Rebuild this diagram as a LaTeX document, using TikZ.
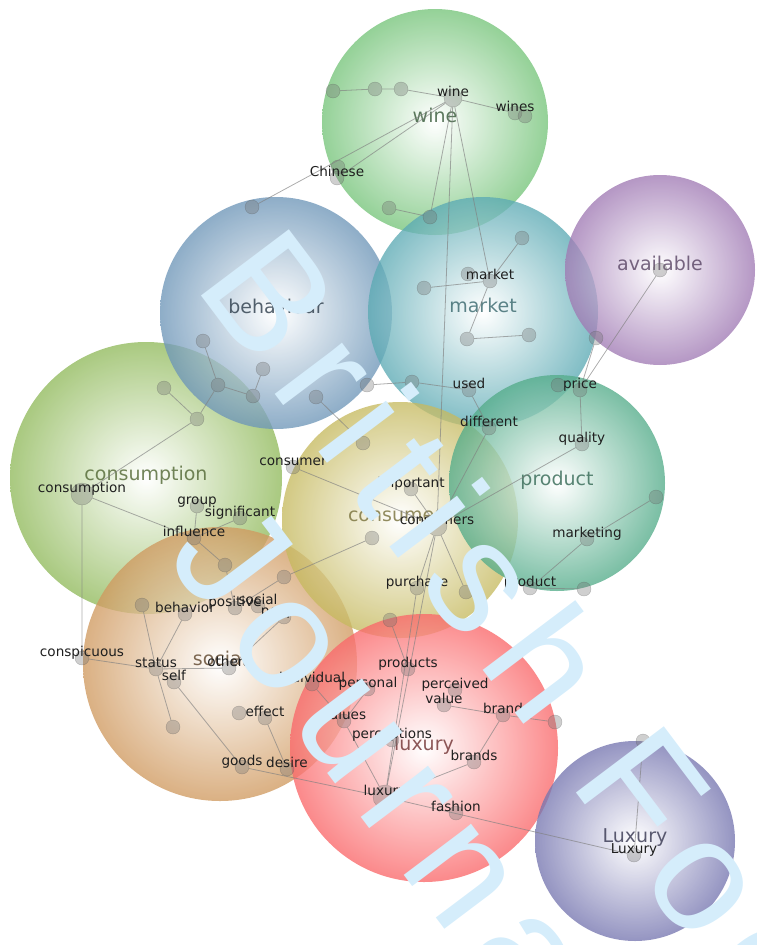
\documentclass[tikz,border=0pt]{standalone}
\usepackage{fontspec}
\setmainfont{DejaVu Sans}
\newfontfamily\wmfont[LetterSpace=12]{Liberation Sans}
\definecolor{winec}{RGB}{118,196,122}
\definecolor{availc}{RGB}{160,122,180}
\definecolor{behavc}{RGB}{110,150,184}
\definecolor{marketc}{RGB}{92,170,180}
\definecolor{consumpc}{RGB}{145,186,92}
\definecolor{productc}{RGB}{84,172,138}
\definecolor{consumersc}{RGB}{198,186,96}
\definecolor{socialc}{RGB}{208,154,96}
\definecolor{luxuryc}{RGB}{250,104,106}
\definecolor{bigluxc}{RGB}{118,118,176}
\definecolor{wmblue}{RGB}{213,237,251}
\begin{document}
\begin{tikzpicture}[x=1pt,y=-1pt,
    bubble/.style={inner color=white,outer color=#1,opacity=0.78},
    ctext/.style={anchor=base,inner sep=0pt,font=\fontsize{19}{21}\selectfont,text opacity=0.8},
    word/.style={circle,inner sep=0pt,minimum size=14pt,fill=black!55,draw=black!70,fill opacity=0.34,draw opacity=0.35},
    bigword/.style={word,minimum size=20pt},
    wtext/.style={anchor=base,inner sep=0pt,yshift=2pt,text=black!88,font=\fontsize{13.6}{15}\selectfont},
    link/.style={draw=black!50,line width=0.8pt,draw opacity=0.65},
    wmark/.style={rotate=-53,anchor=base west,inner sep=0pt,text=wmblue,font=\wmfont\fontsize{160}{180}\selectfont}]
  \useasboundingbox (0,0) rectangle (756,945);

  % bubbles
  \shade[bubble=consumpc] (146,478) circle (136);
  \shade[bubble=behavc] (276,313) circle (116);
  \shade[bubble=winec] (435,122) circle (113);
  \shade[bubble=marketc] (483,312) circle (115);
  \shade[bubble=availc] (660,270) circle (95);
  \shade[bubble=socialc] (220,664) circle (137);
  \shade[bubble=consumersc] (400,520) circle (118);
  \shade[bubble=productc] (557,483) circle (108);
  \shade[bubble=luxuryc] (424,748) circle (134);
  \shade[bubble=bigluxc] (635,841) circle (100);

  \node[ctext,text=winec!45!black] at (435,122) {wine};
  \node[ctext,text=availc!55!black] at (660,270) {available};
  \node[ctext,text=behavc!40!black] at (276,313) {behaviour};
  \node[ctext,text=marketc!60!black] at (483,312) {market};
  \node[ctext,text=consumpc!55!black] at (146,480) {consumption};
  \node[ctext,text=productc!60!black] at (557,485) {product};
  \node[ctext,text=consumersc!60!black] at (400,521) {consumers};
  \node[ctext,text=socialc!45!black] at (220,665) {social};
  \node[ctext,text=luxuryc!45!black] at (424,750) {luxury};
  \node[ctext,text=bigluxc!45!black] at (635,842) {Luxury};

  % word nodes
  \node[word,minimum size=18pt] (wine) at (453,98) {};
  \node[word] (wa) at (333,91) {};
  \node[word] (wb) at (375,89) {};
  \node[word] (wc) at (401,89) {};
  \node[word] (wines) at (515,113) {};
  \node[word] (winesb) at (525,116) {};
  \node[word] (chineseb) at (338,167) {};
  \node[word] (chinese) at (337,178) {};
  \node[word] (bha) at (252,207) {};
  \node[word] (wd) at (389,208) {};
  \node[word] (we) at (430,217) {};

  \node[word] (marketb) at (468,274) {};
  \node[word] (market) at (490,281) {};
  \node[word] (ma) at (424,288) {};
  \node[word] (mb) at (522,238) {};
  \node[word] (mc) at (467,339) {};
  \node[word] (md) at (529,335) {};
  \node[word] (me) at (596,338) {};
  \node[word] (available) at (660,270) {};
  \node[word] (ua) at (367,385) {};
  \node[word] (ub) at (412,382) {};
  \node[word] (used) at (469,390) {};
  \node[word] (different) at (489,428) {};

  \node[word] (priceb) at (558,385) {};
  \node[word] (price) at (580,390) {};
  \node[word] (quality) at (582,444) {};
  \node[word] (marketing) at (587,539) {};
  \node[word] (pa) at (656,497) {};
  \node[word] (product) at (530,588) {};
  \node[word] (pb) at (584,589) {};

  \node[bigword] (consumers) at (437,526) {};
  \node[word] (consumer) at (293,467) {};
  \node[word] (important) at (411,489) {};
  \node[word] (purchase) at (417,588) {};
  \node[word] (ca) at (466,592) {};
  \node[word] (cb) at (372,538) {};
  \node[word] (cc) at (390,620) {};
  \node[word] (cd) at (363,443) {};
  \node[word] (ba) at (316,397) {};
  \node[word] (bb) at (253,396) {};
  \node[word] (bc) at (218,385) {};
  \node[word] (bd) at (263,369) {};
  \node[word] (be) at (203,341) {};

  \node[bigword,minimum size=22pt] (consumption) at (82,494) {};
  \node[word] (ka) at (197,419) {};
  \node[word] (kb) at (164,388) {};
  \node[word] (group) at (197,506) {};
  \node[word] (significant) at (240,518) {};
  \node[word] (influence) at (194,538) {};
  \node[word] (kc) at (225,565) {};

  \node[word] (behavior) at (185,614) {};
  \node[word] (sa) at (142,605) {};
  \node[word] (positive) at (235,608) {};
  \node[word] (socialw) at (258,606) {};
  \node[word] (sb) at (284,577) {};
  \node[word] (people) at (284,617) {};
  \node[word] (conspicuous) at (82,658) {};
  \node[word] (status) at (156,669) {};
  \node[word] (self) at (174,682) {};
  \node[word] (others) at (229,668) {};
  \node[word] (sc) at (173,727) {};
  \node[word] (ea) at (239,713) {};
  \node[word] (effect) at (265,718) {};
  \node[word] (desire) at (287,769) {};
  \node[word] (goods) at (242,767) {};

  \node[word] (individual) at (312,684) {};
  \node[word] (personal) at (368,689) {};
  \node[word] (products) at (408,669) {};
  \node[word] (values) at (344,721) {};
  \node[word] (perceptions) at (392,740) {};
  \node[word] (perceived) at (455,690) {};
  \node[word] (value) at (444,705) {};
  \node[word] (brand) at (503,715) {};
  \node[word] (la) at (555,722) {};
  \node[word] (brands) at (474,762) {};
  \node[bigword,minimum size=24pt] (luxury) at (385,797) {};
  \node[word] (fashion) at (456,813) {};
  \node[word] (luxuryb) at (634,855) {};
  \node[word] (lb) at (643,741) {};

  % links
  \draw[link] (wa) -- (wb) -- (wc) -- (wine);
  \draw[link] (wine) -- (wines);
  \draw[link] (wine) -- (chinese);
  \draw[link] (wine) -- (bha);
  \draw[link] (wine) -- (we);
  \draw[link] (wd) -- (we);
  \draw[link] (wine) -- (market);
  \draw[link] (wine) -- (consumers);
  \draw[link] (market) -- (ma);
  \draw[link] (market) -- (mb);
  \draw[link] (market) -- (mc) -- (md);
  \draw[link] (ua) -- (ub) -- (used) -- (different) -- (consumers);
  \draw[link] (price) -- (quality) -- (consumers);
  \draw[link] (price) -- (available);
  \draw[link] (price) -- (me);
  \draw[link] (marketing) -- (pa);
  \draw[link] (marketing) -- (product) -- (pb);
  \draw[link] (consumers) -- (consumer);
  \draw[link] (consumers) -- (important);
  \draw[link] (consumers) -- (purchase) -- (luxury);
  \draw[link] (consumers) -- (ca);
  \draw[link] (consumers) -- (luxury);
  \draw[link] (cb) -- (sb) -- (positive);
  \draw[link] (ba) -- (cd);
  \draw[link] (consumption) -- (ka) -- (kb);
  \draw[link] (ka) -- (bc) -- (be);
  \draw[link] (bc) -- (bb) -- (bd);
  \draw[link] (consumption) -- (influence) -- (significant);
  \draw[link] (group) -- (influence) -- (kc) -- (positive);
  \draw[link] (consumption) -- (conspicuous) -- (status) -- (others);
  \draw[link] (status) -- (behavior);
  \draw[link] (sa) -- (status) -- (sc);
  \draw[link] (people) -- (others);
  \draw[link] (self) -- (goods) -- (luxury);
  \draw[link] (desire) -- (effect);
  \draw[link] (cc) -- (products);
  \draw[link] (individual) -- (values) -- (personal);
  \draw[link] (values) -- (luxury);
  \draw[link] (value) -- (brand) -- (la);
  \draw[link] (brand) -- (brands) -- (luxury);
  \draw[link] (luxury) -- (luxuryb) -- (lb);

  % word labels
  \node[wtext] at (wine) {wine};
  \node[wtext] at (wines) {wines};
  \node[wtext] at (chinese) {Chinese};
  \node[wtext] at (market) {market};
  \node[wtext] at (used) {used};
  \node[wtext] at (different) {different};
  \node[wtext] at (price) {price};
  \node[wtext] at (quality) {quality};
  \node[wtext] at (marketing) {marketing};
  \node[wtext] at (product) {product};
  \node[wtext] at (consumers) {consumers};
  \node[wtext] at (consumer) {consumer};
  \node[wtext] at (important) {important};
  \node[wtext] at (purchase) {purchase};
  \node[wtext] at (consumption) {consumption};
  \node[wtext] at (group) {group};
  \node[wtext] at (significant) {significant};
  \node[wtext] at (influence) {influence};
  \node[wtext] at (behavior) {behavior};
  \node[wtext] at (positive) {positive};
  \node[wtext] at (socialw) {social};
  \node[wtext] at (people) {people};
  \node[wtext] at (conspicuous) {conspicuous};
  \node[wtext] at (status) {status};
  \node[wtext] at (self) {self};
  \node[wtext] at (others) {others};
  \node[wtext] at (effect) {effect};
  \node[wtext] at (desire) {desire};
  \node[wtext] at (goods) {goods};
  \node[wtext] at (individual) {individual};
  \node[wtext] at (personal) {personal};
  \node[wtext] at (products) {products};
  \node[wtext] at (values) {values};
  \node[wtext] at (perceptions) {perceptions};
  \node[wtext] at (perceived) {perceived};
  \node[wtext] at (value) {value};
  \node[wtext] at (brand) {brand};
  \node[wtext] at (brands) {brands};
  \node[wtext] at (luxury) {luxury};
  \node[wtext] at (fashion) {fashion};
  \node[wtext] at (luxuryb) {Luxury};

  % watermark
  \node[wmark] (wmtop) at (193,285) {British Food};
  \node[wmark] (wmbottom) at (164,556) {Journal};
\end{tikzpicture}
\end{document}
